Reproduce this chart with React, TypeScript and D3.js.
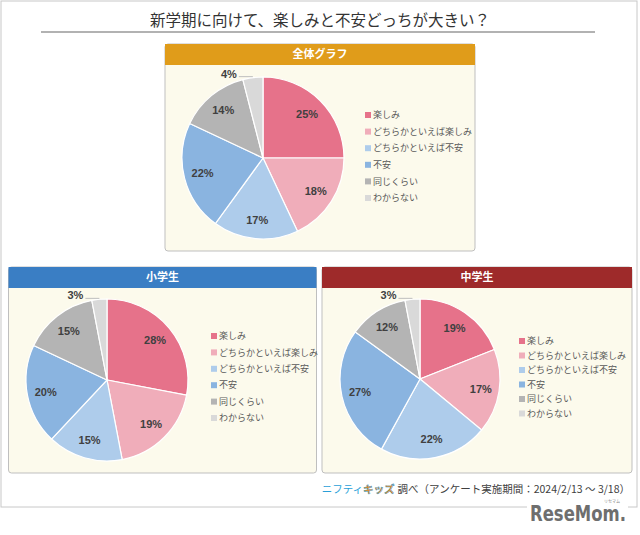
import React from "react";
import * as d3 from "d3";

const categories = ["楽しみ", "どちらかといえば楽しみ", "どちらかといえば不安", "不安", "同じくらい", "わからない"];
const colors = ["#E6728A", "#F0ADBA", "#AECCEB", "#8AB4E0", "#B4B4B4", "#D9D9D9"];
const overallValues = [25, 18, 17, 22, 14, 4];
const elementaryValues = [28, 19, 15, 20, 15, 3];
const juniorValues = [19, 17, 22, 27, 12, 3];

const titleText = "新学期に向けて、楽しみと不安どっちが大きい？";
const panelTitles = ["全体グラフ", "小学生", "中学生"];

const JP = "'Noto Sans CJK JP', 'Noto Sans', sans-serif";
const NUM = "'Liberation Sans', Arial, sans-serif";

type PanelProps = {
  x: number; y: number; w: number; h: number; headerH: number;
  headerColor: string; title: string; values: number[];
  cx: number; cy: number; r: number;
  legendX: number; legendY: number; legendStep: number;
};

function PiePanel(p: PanelProps) {
  const pie = d3.pie<number>().sort(null).value((d) => d);
  const arcs = pie(p.values);
  const arc = d3.arc<d3.PieArcDatum<number>>().innerRadius(0).outerRadius(p.r);
  const labelArc = d3.arc<d3.PieArcDatum<number>>().innerRadius(p.r * 0.77).outerRadius(p.r * 0.77);
  const edgeArc = d3.arc<d3.PieArcDatum<number>>().innerRadius(p.r).outerRadius(p.r);
  return (
    <g>
      <rect x={p.x} y={p.y} width={p.w} height={p.h} fill="#FCFAEC" stroke="#BFBFBF" strokeWidth={1} rx={3} />
      <rect x={p.x} y={p.y} width={p.w} height={p.headerH} fill={p.headerColor} />
      <text x={p.x + p.w / 2} y={p.y + p.headerH / 2} dy="0.36em" textAnchor="middle" fill="#fff"
        fontFamily={JP} fontWeight="bold" fontSize={11}>{p.title}</text>
      <g transform={`translate(${p.cx},${p.cy})`}>
        {arcs.map((a, i) => (
          <path key={i} d={arc(a) || ""} fill={colors[i]} stroke="#fff" strokeWidth={1.2} />
        ))}
        {arcs.map((a, i) => {
          const small = a.value < 5;
          if (!small) {
            const [lx, ly] = labelArc.centroid(a);
            return (
              <text key={i} x={lx} y={ly} dy="0.36em" textAnchor="middle" fill="#404040"
                fontFamily={NUM} fontWeight="bold" fontSize={11}>{a.value}%</text>
            );
          }
          const [ex, ey] = edgeArc.centroid(a);
          const lx = ex - 14;
          const ly = ey - 1;
          return (
            <g key={i}>
              <line x1={lx} y1={ly} x2={ex} y2={ly} stroke="#BFBFBF" strokeWidth={1} />
              <text x={lx - 2} y={ly} dy="0.1em" textAnchor="end" fill="#404040"
                fontFamily={NUM} fontWeight="bold" fontSize={11}>{a.value}%</text>
            </g>
          );
        })}
      </g>
      {categories.map((c, i) => (
        <g key={c} transform={`translate(${p.legendX},${p.legendY + i * p.legendStep})`}>
          <rect x={0} y={-3} width={6} height={6} fill={colors[i]} />
          <text x={8} y={0} dy="0.36em" fill="#595959" fontFamily={JP} fontSize={9}>{c}</text>
        </g>
      ))}
    </g>
  );
}

export default function App() {
  return (
    <svg width={640} height={535} style={{ position: "absolute", left: 0, top: 0, background: "#fff" }}>
      <rect x={1} y={1} width={636} height={506} fill="#fff" stroke="#C8C8C8" strokeWidth={1} />
      <text x={320} y={20} dy="0.36em" textAnchor="middle" fill="#333" fontFamily={JP} fontSize={15.5}>{titleText}</text>
      <line x1={41} x2={595} y1={32} y2={32} stroke="#999" strokeWidth={1.5} />
      <PiePanel x={165} y={44} w={310} h={207} headerH={21} headerColor="#E09C1A" title={panelTitles[0]}
        values={overallValues} cx={263} cy={158} r={81} legendX={365} legendY={115} legendStep={16.6} />
      <PiePanel x={8.5} y={267} w={308} h={206} headerH={21} headerColor="#3A7EC4" title={panelTitles[1]}
        values={elementaryValues} cx={107} cy={380} r={81} legendX={211} legendY={336} legendStep={16.4} />
      <PiePanel x={322} y={267} w={310} h={206} headerH={21} headerColor="#9E2A2A" title={panelTitles[2]}
        values={juniorValues} cx={420} cy={379} r={80} legendX={519} legendY={341} legendStep={14.5} />
      <text x={630} y={489} dy="0.36em" textAnchor="end" fontFamily={JP} fontSize={10.5}>
        <tspan fill="#2A9FD8">ニフティ</tspan>
        <tspan fill="#F08A1C" fontWeight="bold" stroke="#2A9FD8" strokeWidth={0.4}>キッズ</tspan>
        <tspan fill="#404040" dx={3}>調べ（アンケート実施期間：2024/2/13 ～ 3/18）</tspan>
      </text>
      <rect x={527} y={501} width={101} height={22} fill="#fff" />
      <text x={620} y={503} textAnchor="end" fill="#888" fontFamily={JP} fontSize={4}>リセマム</text>
      <text x={530} y={521} fill="#6E6E6E" fontFamily="'DejaVu Sans Condensed', 'DejaVu Sans', sans-serif"
        fontWeight="bold" fontSize={22} textLength={96} lengthAdjust="spacingAndGlyphs">ReseMom.</text>
    </svg>
  );
}
